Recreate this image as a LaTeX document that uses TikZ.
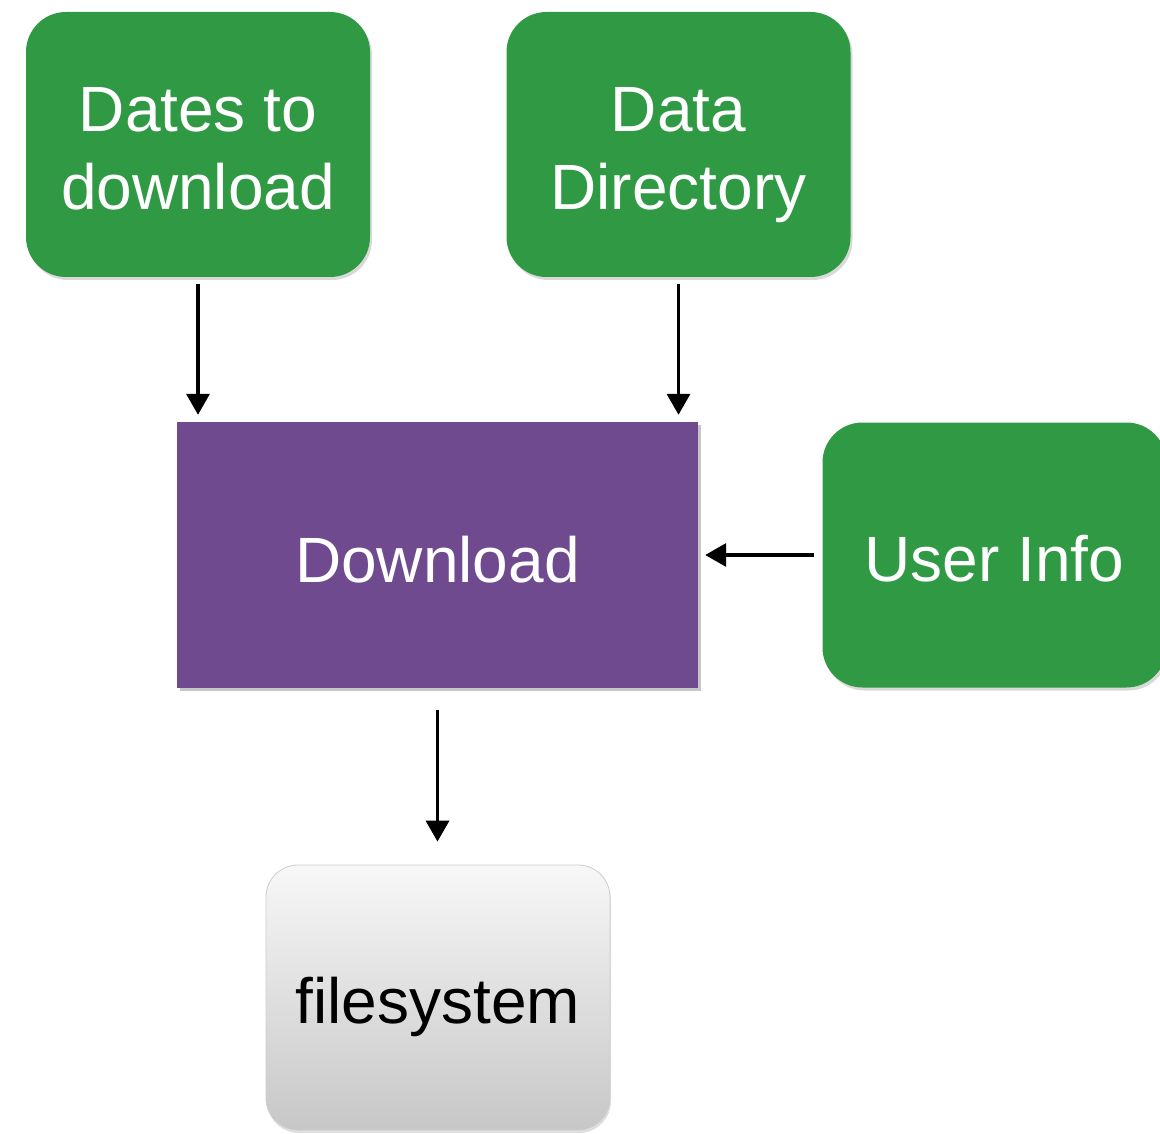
\documentclass[tikz,border=0pt]{standalone}
\usepackage{fontspec}
\setmainfont{Liberation Sans}
\usetikzlibrary{arrows.meta,shadows,calc}
\definecolor{boxgreen}{RGB}{47,153,68}
\definecolor{boxpurple}{RGB}{111,74,142}
\definecolor{fsborder}{RGB}{205,205,205}
\newcommand{\topline}[1]{\raisebox{0pt}[53pt][0pt]{#1}}
\newcommand{\lastline}[1]{\raisebox{0pt}[\height][0pt]{#1}}
\newcommand{\oneline}[2]{\raisebox{0pt}[#1][0pt]{#2}}
\begin{document}
\begin{tikzpicture}[x=1pt,y=-1pt,
  greenbox/.style={fill=boxgreen, rounded corners=40pt, minimum width=344pt, minimum height=265pt,
    inner sep=0pt, align=center, text=white, font=\fontsize{64}{78}\selectfont,
    drop shadow={opacity=0.3, shadow xshift=2pt, shadow yshift=-3pt}},
  purplebox/.style={fill=boxpurple, minimum width=521pt, minimum height=266pt, inner sep=0pt,
    text=white, font=\fontsize{64}{78}\selectfont,
    drop shadow={opacity=0.45, shadow xshift=3pt, shadow yshift=-3pt}},
  fsbox/.style={top color=white!97!black, bottom color=black!22, draw=fsborder, line width=0.8pt,
    rounded corners=32pt, minimum width=344pt, minimum height=265pt, inner sep=0pt,
    text=black, font=\fontsize{64}{78}\selectfont,
    drop shadow={opacity=0.25, shadow xshift=1pt, shadow yshift=-3pt}},
  conn/.style={line width=3.5pt, -{Triangle[length=21pt,width=23pt]}}
]
\useasboundingbox (0,0) rectangle (1160,1134);
\node[greenbox] (dates) at (198,144.5) {\topline{Dates to}\\\lastline{download}};
\node[greenbox] (datadir) at (678.5,144.5) {\topline{Data}\\\lastline{Directory}};
\node[purplebox] (download) at (437.5,555) {\oneline{54pt}{Download}};
\node[greenbox] (user) at (994.5,555) {\oneline{52pt}{User Info}};
\node[fsbox] (fs) at (438,997.5) {\oneline{51pt}{filesystem}};

\draw[conn, shorten <=7pt, shorten >=7pt] (dates.south) -- (dates.south |- download.north);
\draw[conn, shorten <=7pt, shorten >=7pt] (datadir.south) -- (datadir.south |- download.north);
\draw[conn, shorten <=8pt, shorten >=7pt] (user.west) -- (download.east);
\draw[conn, shorten <=22pt, shorten >=23pt] (download.south) -- (download.south |- fs.north);
\end{tikzpicture}
\end{document}
